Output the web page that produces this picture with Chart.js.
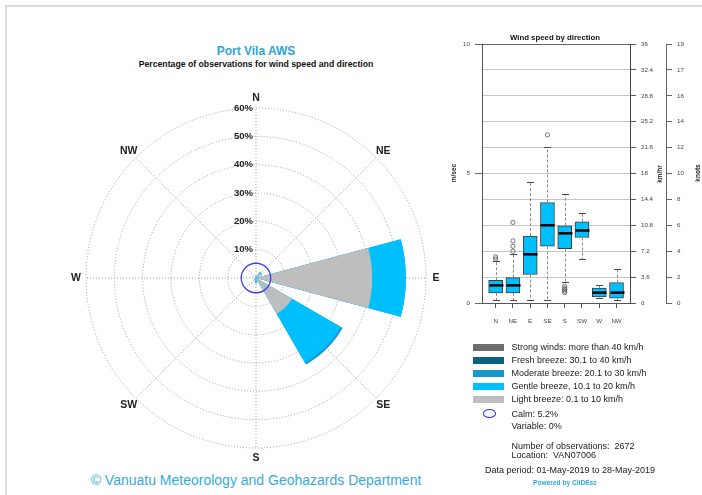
<!DOCTYPE html>
<html>
<head>
<meta charset="utf-8">
<script src="https://cdn.jsdelivr.net/npm/chart.js@4/dist/chart.umd.min.js"></script>
<style>
  html, body { margin: 0; padding: 0; background: #fff; }
  body { width: 702px; height: 495px; position: relative; overflow: hidden;
         font-family: "Liberation Sans", Arial, Helvetica, sans-serif; color: #1a1a1a; }
  .abs { position: absolute; white-space: pre; }
  .center { text-align: center; }
  .rot { transform: translate(-50%, -50%) rotate(-90deg); font-weight: bold; font-size: 6.5px; color: #222; }
  canvas { position: absolute; }
</style>
</head>
<body>
<!-- page frame -->
<div class="abs" style="left:5px;top:5px;width:697px;height:2px;background:#dcdcdc"></div>
<div class="abs" style="left:5px;top:5px;width:2px;height:490px;background:#dcdcdc"></div>

<!-- wind rose headings -->
<div class="abs center" style="left:0;top:44px;width:512px;font-size:12px;line-height:14px;font-weight:bold;color:#2ea5db">Port Vila AWS</div>
<div class="abs center" style="left:0;top:59px;width:512px;font-size:8.7px;line-height:10px;font-weight:bold;color:#111">Percentage of observations for wind speed and direction</div>
<div class="abs center" style="left:0;top:472px;width:512px;font-size:14px;line-height:16px;color:#37a9dd">© Vanuatu Meteorology and Geohazards Department</div>

<canvas id="rose" width="460" height="495" style="left:0;top:0"></canvas>

<!-- box plot panel -->
<div class="abs center" style="left:455px;top:33px;width:200px;font-size:7.8px;line-height:10px;font-weight:bold;color:#111">Wind speed by direction</div>
<canvas id="box" width="262" height="303" style="left:440px;top:30px"></canvas>
<div class="abs rot" style="left:452.5px;top:173px">m/sec</div>
<div class="abs rot" style="left:658.5px;top:174px">km/hr</div>
<div class="abs rot" style="left:696.5px;top:173px">knots</div>

<div id="legend"></div>

<script>
// ---- wind rose data (percent of observations) ----
const directions     = ['N', 'NE', 'E', 'SE', 'S', 'SW', 'W', 'NW'];
const lightBreeze    = [0.6, 2.2, 41.0, 14.6, 0.9, 0.4, 0.2, 0.3];
const gentleBreeze   = [0.2, 0.3, 11.9, 20.0, 0.8, 0.4, 0.0, 0.1];
const moderateBreeze = [0.0, 0.0, 0.0, 0.7, 0.0, 0.0, 0.0, 0.0];
const calmPct        = 5.2;
const ringValues     = [10, 20, 30, 40, 50, 60];
const ringLabels     = ['10%', '20%', '30%', '40%', '50%', '60%'];

// ---- wind speed by direction (m/s) ----
const whiskerLow  = [0.10, 0.10, 0.10, 0.10, 0.81, 1.69, 0.21, 0.10];
const quartile1   = [0.39, 0.39, 1.10, 2.19, 2.10, 2.53, 0.23, 0.19];
const medians     = [0.68, 0.68, 1.88, 3.00, 2.69, 2.80, 0.40, 0.40];
const quartile3   = [0.88, 0.98, 2.58, 3.88, 2.98, 3.13, 0.58, 0.79];
const whiskerHigh = [1.63, 1.88, 4.68, 6.01, 4.19, 3.48, 0.68, 1.30];
const outliers    = [[1.70, 1.78], [2.00, 2.19, 2.40, 3.11], [], [6.49], [0.65, 0.58, 0.52, 0.46, 0.40], [], [], []];
const msLabels    = ['0', '5', '10'];
const kmhLabels   = ['0', '3.6', '7.2', '10.8', '14.4', '18', '21.6', '25.2', '28.8', '32.4', '36'];
const knotLabels  = ['0', '2', '4', '6', '8', '10', '12', '14', '16', '17', '19'];

// ---- legend ----
const legendLabels = ['Strong winds: more than 40 km/h', 'Fresh breeze: 30.1 to 40 km/h',
                      'Moderate breeze: 20.1 to 30 km/h', 'Gentle breeze, 10.1 to 20 km/h',
                      'Light breeze: 0.1 to 10 km/h'];
const legendColors = ['#6f6f6f', '#0b6184', '#1499cd', '#00bfff', '#bebebe'];

const FONT = '"Liberation Sans", Arial, Helvetica, sans-serif';
Chart.defaults.font.family = FONT;

// Each direction petal is 30 degrees wide: spread over 24 sectors of 15 degrees,
// sector j covering bearings [15j, 15j + 15].
const SECTORS = 24;
function toSectors(values) {
  const out = new Array(SECTORS).fill(0);
  values.forEach((v, i) => {
    out[3 * i] = v;
    out[(3 * i - 1 + SECTORS) % SECTORS] = v;
  });
  return out;
}
const cumLight = lightBreeze.slice();
const cumGentle = lightBreeze.map((v, i) => v + gentleBreeze[i]);
const cumModerate = cumGentle.map((v, i) => v + moderateBreeze[i]);
const sectorLabels = Array.from({length: SECTORS}, (_, j) => (j % 3 === 0 ? directions[j / 3] : ''));

const roseDecor = {
  id: 'roseDecor',
  afterDatasetsDraw(chart) {
    const s = chart.scales.r;
    const ctx = chart.ctx;
    ctx.save();
    // calm circle
    ctx.beginPath();
    ctx.arc(s.xCenter, s.yCenter, s.getDistanceFromCenterForValue(calmPct), 0, Math.PI * 2);
    ctx.strokeStyle = '#3f3ff2';
    ctx.lineWidth = 1.3;
    ctx.stroke();
    // ring percentages along the north spoke
    ctx.fillStyle = '#222';
    ctx.font = 'bold 9.5px ' + FONT;
    ctx.textAlign = 'right';
    ctx.textBaseline = 'middle';
    ringValues.forEach((v, i) => {
      ctx.fillText(ringLabels[i], s.xCenter - 3, s.yCenter - s.getDistanceFromCenterForValue(v));
    });
    // compass points
    ctx.font = 'bold 10.5px ' + FONT;
    ctx.textAlign = 'center';
    const rOuter = s.getDistanceFromCenterForValue(s.max) + 10;
    directions.forEach((d, i) => {
      const p = s.getPointPosition(i * 3, rOuter);
      ctx.fillText(d, p.x, p.y);
    });
    ctx.restore();
  }
};

new Chart(document.getElementById('rose'), {
  type: 'polarArea',
  data: {
    labels: sectorLabels,
    datasets: [
      { label: legendLabels[4], data: toSectors(cumLight), backgroundColor: legendColors[4] },
      { label: legendLabels[3], data: toSectors(cumGentle), backgroundColor: legendColors[3] },
      { label: legendLabels[2], data: toSectors(cumModerate), backgroundColor: legendColors[2] }
    ]
  },
  options: {
    responsive: false,
    animation: false,
    events: [],
    layout: { padding: { left: 86, top: 108, right: 34, bottom: 47 } },
    elements: { arc: { borderWidth: 0 } },
    plugins: { legend: { display: false }, tooltip: { enabled: false } },
    scales: {
      r: {
        min: 0, max: 60,
        startAngle: 0,
        ticks: { display: false, stepSize: 10 },
        grid: { circular: true, color: '#9c9c9c', lineWidth: 1, borderDash: [1, 2] },
        border: { dash: [1, 2] },
        angleLines: {
          display: true, color: '#9c9c9c', borderDash: [1, 2],
          lineWidth: (c) => (c.index % 3 === 0 ? 1 : 0)
        },
        pointLabels: { display: false }
      }
    }
  },
  plugins: [roseDecor]
});

// ---- box plot ----
const boxDecor = {
  id: 'boxDecor',
  afterDatasetsDraw(chart) {
    const xs = chart.scales.x, ys = chart.scales.y;
    const ctx = chart.ctx;
    const half = 7, cap = 3.5;
    ctx.save();
    directions.forEach((d, i) => {
      const x = Math.round(xs.getPixelForValue(i + 1)) + 0.5;
      const yWL = ys.getPixelForValue(whiskerLow[i]);
      const yQ1 = ys.getPixelForValue(quartile1[i]);
      const yQ3 = ys.getPixelForValue(quartile3[i]);
      const yWH = ys.getPixelForValue(whiskerHigh[i]);
      const yMed = ys.getPixelForValue(medians[i]);
      // dashed whiskers
      ctx.strokeStyle = '#8a8a8a';
      ctx.lineWidth = 1;
      ctx.setLineDash([3, 2]);
      ctx.beginPath();
      ctx.moveTo(x, yQ3); ctx.lineTo(x, yWH);
      ctx.moveTo(x, yQ1); ctx.lineTo(x, yWL);
      ctx.stroke();
      // staples
      ctx.setLineDash([]);
      ctx.strokeStyle = '#444';
      ctx.beginPath();
      ctx.moveTo(x - cap, Math.round(yWH) + 0.5); ctx.lineTo(x + cap, Math.round(yWH) + 0.5);
      ctx.moveTo(x - cap, Math.round(yWL) + 0.5); ctx.lineTo(x + cap, Math.round(yWL) + 0.5);
      ctx.stroke();
      // median
      ctx.strokeStyle = '#000';
      ctx.lineWidth = 2.5;
      ctx.beginPath();
      ctx.moveTo(x - half, yMed); ctx.lineTo(x + half, yMed);
      ctx.stroke();
    });
    ctx.restore();
  }
};

const axisTickFont = { size: 6.2, family: FONT };
const outlierPoints = [];
outliers.forEach((list, i) => list.forEach((v) => outlierPoints.push({ x: i + 1, y: v })));

new Chart(document.getElementById('box'), {
  type: 'bar',
  data: {
    datasets: [
      {
        type: 'bar',
        label: 'Wind speed',
        data: directions.map((d, i) => ({ x: i + 1, y: [quartile1[i], quartile3[i]] })),
        backgroundColor: '#00bfff',
        borderColor: '#3c3c3c',
        borderWidth: 1,
        borderSkipped: false,
        barThickness: 14,
        xAxisID: 'x', yAxisID: 'y'
      },
      {
        type: 'scatter',
        label: 'Outliers',
        data: outlierPoints,
        pointStyle: 'circle',
        radius: 2.1,
        borderWidth: 0.8,
        borderColor: '#555',
        backgroundColor: 'rgba(0,0,0,0)',
        xAxisID: 'x', yAxisID: 'y'
      }
    ]
  },
  options: {
    responsive: false,
    animation: false,
    events: [],
    layout: { padding: { top: 14, left: 0, right: 0, bottom: 0 } },
    plugins: { legend: { display: false }, tooltip: { enabled: false } },
    scales: {
      x: {
        type: 'linear', position: 'bottom',
        min: 0.21, max: 8.78,
        offset: false,
        bounds: 'data',
        afterBuildTicks: (s) => { s.ticks = directions.map((d, i) => ({ value: i + 1 })); },
        ticks: { callback: (v) => directions[v - 1], font: axisTickFont, color: '#444', padding: 10, maxRotation: 0, autoSkip: false },
        grid: { offset: false, drawOnChartArea: false, drawTicks: true, tickLength: 5, tickColor: '#555' },
        border: { display: true, color: '#555' },
        afterFit: (s) => { s.height = 30; }
      },
      y: {
        type: 'linear', position: 'left',
        min: 0, max: 10,
        ticks: { stepSize: 5, callback: (v, i) => msLabels[i], font: axisTickFont, color: '#444', padding: 5 },
        grid: { drawOnChartArea: false, tickLength: 7, tickColor: '#666' },
        border: { display: true, color: '#555' },
        afterFit: (s) => { s.width = 42; }
      },
      ykmh: {
        type: 'linear', position: 'right',
        min: 0, max: 10,
        ticks: { stepSize: 1, callback: (v, i) => kmhLabels[i], font: axisTickFont, color: '#444', padding: 5 },
        grid: {
          drawOnChartArea: true, tickLength: 6, tickColor: '#555',
          color: (c) => (c.tick && c.tick.value === 10 ? '#666' : '#c6c6c6')
        },
        border: { display: true, color: '#444' },
        afterFit: (s) => { s.width = 36; }
      },
      yknots: {
        type: 'linear', position: 'right',
        min: 0, max: 10,
        ticks: { stepSize: 1, callback: (v, i) => knotLabels[i], font: axisTickFont, color: '#444', padding: 5 },
        grid: { drawOnChartArea: false, tickLength: 6, tickColor: '#666' },
        border: { display: true, color: '#666' },
        afterFit: (s) => { s.width = 36; }
      }
    }
  },
  plugins: [boxDecor]
});

// ---- legend and station notes ----
const legend = document.getElementById('legend');
const rowCenters = [347.5, 360.7, 373.3, 386.3, 399.3];
legendLabels.forEach((t, i) => {
  const sw = document.createElement('div');
  sw.className = 'abs';
  sw.style.cssText = `left:472.5px;top:${rowCenters[i] - 3.5}px;width:31px;height:7px;background:${legendColors[i]}`;
  legend.appendChild(sw);
  const tx = document.createElement('div');
  tx.className = 'abs';
  tx.style.cssText = `left:511.5px;top:${rowCenters[i] - 5.5}px;font-size:9px;line-height:11px;color:#1a1a1a`;
  tx.textContent = t;
  legend.appendChild(tx);
});
function note(text, css) {
  const el = document.createElement('div');
  el.className = 'abs';
  el.style.cssText = css;
  el.textContent = text;
  legend.appendChild(el);
}
const calmRing = document.createElement('div');
calmRing.className = 'abs';
calmRing.style.cssText = 'left:482.7px;top:409.3px;width:11.6px;height:7px;border:1.5px solid #2d2df0;border-radius:50%';
legend.appendChild(calmRing);
note('Calm: ' + calmPct + '%', 'left:511.5px;top:408.8px;font-size:9px;line-height:11px;color:#1a1a1a');
note('Variable: 0%', 'left:511.5px;top:421.2px;font-size:9px;line-height:11px;color:#1a1a1a');
note('Number of observations:  2672', 'left:511.5px;top:440.5px;font-size:9px;line-height:11px;color:#1a1a1a');
note('Location:  VAN07006', 'left:511.5px;top:449.8px;font-size:9px;line-height:11px;color:#1a1a1a');
note('Data period: 01-May-2019 to 28-May-2019', 'left:470px;width:200px;text-align:center;top:465.2px;font-size:9px;line-height:11px;color:#1a1a1a');
note('Powered by CliDEsc', 'left:515px;width:100px;text-align:center;top:478.5px;font-size:6.6px;line-height:8px;font-weight:bold;color:#2aa6e0');
</script>
</body>
</html>
